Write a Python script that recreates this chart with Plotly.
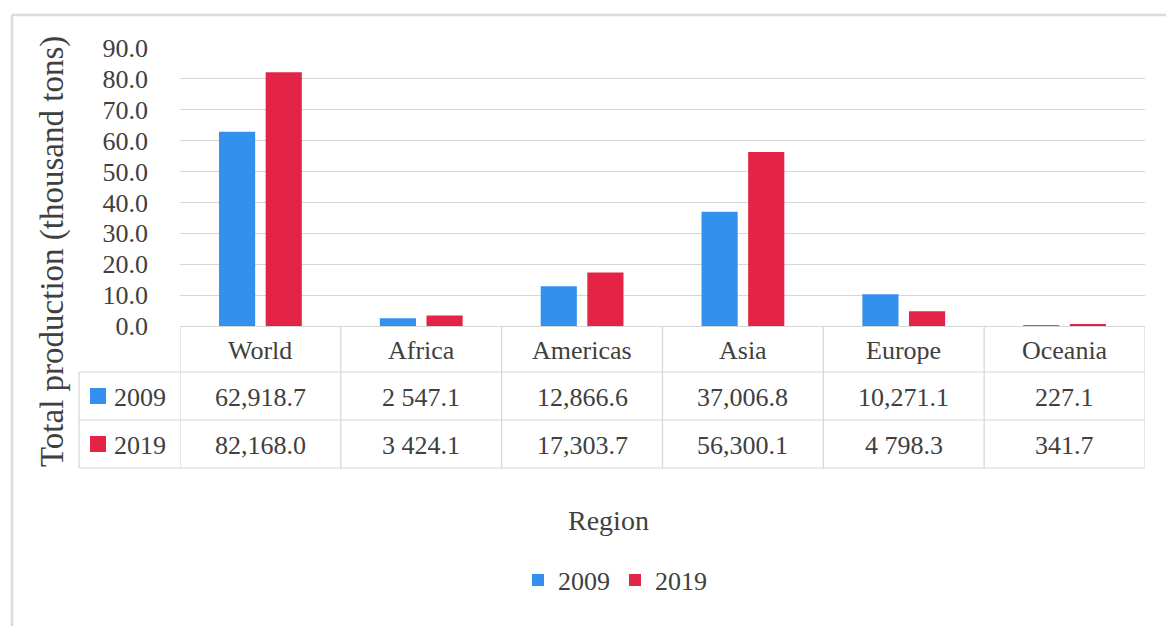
import plotly.graph_objects as go

regions = ["World", "Africa", "Americas", "Asia", "Europe", "Oceania"]
years = ["2009", "2019"]
values_2009 = [62918.7, 2547.1, 12866.6, 37006.8, 10271.1, 227.1]
values_2019 = [82168.0, 3424.1, 17303.7, 56300.1, 4798.3, 341.7]
labels_2009 = ["62,918.7", "2 547.1", "12,866.6", "37,006.8", "10,271.1", "227.1"]
labels_2019 = ["82,168.0", "3 424.1", "17,303.7", "56,300.1", "4 798.3", "341.7"]
y_ticks = [0, 10, 20, 30, 40, 50, 60, 70, 80, 90]

BLUE = "#3390EC"
RED = "#E32446"
TXT = "#404040"
LINE = "#d6d6d6"
FONT = "Liberation Serif"

W, H = 1166, 626
L, R, T, B = 180, 21, 48, 300
pw, ph = W - L - R, H - T - B


def px(xpix):
    return (xpix - L) / pw


def py(ypix):
    return (H - B - ypix) / ph


fig = go.Figure()
fig.add_trace(go.Bar(x=regions, y=[v / 1000 for v in values_2009], name=years[0],
                     marker=dict(color=BLUE, line=dict(width=0))))
fig.add_trace(go.Bar(x=regions, y=[v / 1000 for v in values_2019], name=years[1],
                     marker=dict(color=RED, line=dict(width=0))))

shapes = []
ann = []


def text(x, y, s, size=26, xref="paper", xanchor="center", angle=0):
    ann.append(dict(x=x, y=y, xref=xref, yref="paper", text=s, showarrow=False,
                    xanchor=xanchor, yanchor="middle", textangle=angle,
                    font=dict(size=size, color=TXT, family=FONT)))


# table grid
row_tops = [326, 372, 420, 468]
for yp in row_tops[1:]:
    shapes.append(dict(type="line", xref="paper", yref="paper", x0=px(79), x1=1,
                       y0=py(yp), y1=py(yp), line=dict(color=LINE, width=1.2)))
for k in range(len(regions) + 1):
    shapes.append(dict(type="line", xref="x", yref="paper", x0=k - 0.5, x1=k - 0.5,
                       y0=py(326), y1=py(468), line=dict(color=LINE, width=1.2)))
shapes.append(dict(type="line", xref="paper", yref="paper", x0=px(79), x1=px(79),
                   y0=py(372), y1=py(468), line=dict(color=LINE, width=1.2)))
# outer border (left & top)
shapes.append(dict(type="line", xref="paper", yref="paper", x0=px(12), x1=px(12),
                   y0=py(15), y1=py(640), line=dict(color="#dcdcdc", width=2.5)))
shapes.append(dict(type="line", xref="paper", yref="paper", x0=px(12), x1=px(1180),
                   y0=py(15), y1=py(15), line=dict(color="#dcdcdc", width=2.5)))

# header labels and values
for i, r in enumerate(regions):
    text(i, py(350), r, xref="x")
    text(i, py(397), labels_2009[i], xref="x")
    text(i, py(445), labels_2019[i], xref="x")

# row keys
for yc, col, yr in [(396, BLUE, years[0]), (444, RED, years[1])]:
    shapes.append(dict(type="rect", xref="paper", yref="paper", x0=px(90), x1=px(106),
                       y0=py(yc - 8), y1=py(yc + 8), fillcolor=col, line=dict(width=0)))
    text(px(112), py(yc + 1), yr, xanchor="left")

# axis titles
text(px(52), py(252), "Total production (thousand tons)", size=33, angle=-90)
text(px(608), py(520), "Region", size=28)

fig.update_layout(
    width=W, height=H,
    margin=dict(l=L, r=R, t=T, b=B, autoexpand=False),
    paper_bgcolor="white", plot_bgcolor="white",
    barmode="group", bargap=0.42, bargroupgap=0.225,
    font=dict(family=FONT, color=TXT, size=26),
    xaxis=dict(showticklabels=False, showgrid=False, showline=False, zeroline=False,
               range=[-0.5, 5.5], fixedrange=True),
    yaxis=dict(range=[0, 90], tickvals=y_ticks, tickformat=".1f", showgrid=True,
               gridcolor=LINE, gridwidth=1.2, zeroline=True, zerolinecolor=LINE, zerolinewidth=1.2,
               showline=False, ticks="", ticklabelstandoff=31,
               tickfont=dict(size=26, color=TXT, family=FONT)),
    legend=dict(orientation="h", x=px(615), xanchor="center", y=py(580), yanchor="middle",
                font=dict(size=26, color=TXT, family=FONT), bgcolor="rgba(0,0,0,0)",
                itemwidth=30, traceorder="normal"),
    shapes=shapes, annotations=ann,
)

fig.write_html("out.html", config={"displayModeBar": False},
               post_script="document.body.style.margin='0';document.body.style.overflow='hidden';")
